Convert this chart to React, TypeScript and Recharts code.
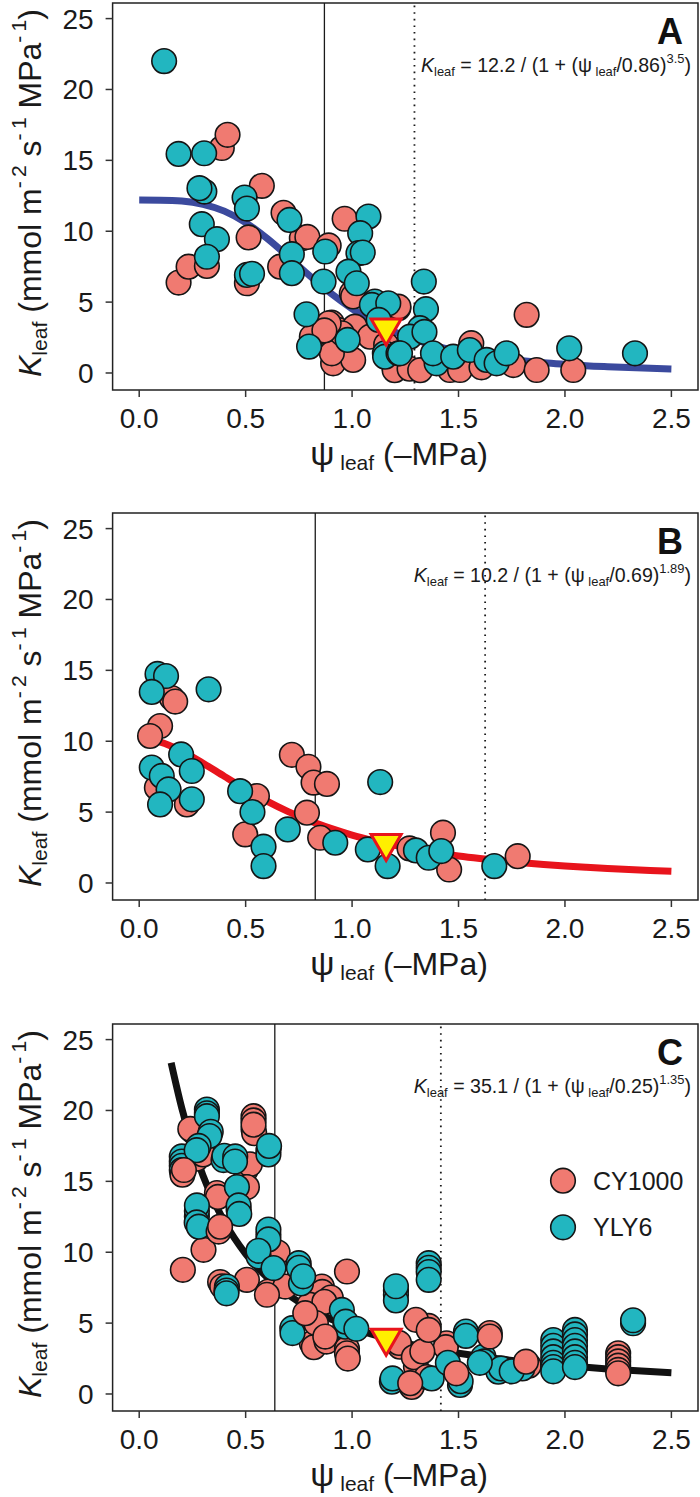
import React from "react"
import {
  ComposedChart,
  XAxis,
  YAxis,
  Scatter,
  Line,
  ReferenceLine,
  ReferenceArea,
} from "recharts"

const FONT = '"Liberation Sans", Arial, Helvetica, sans-serif'
const CY_FILL = "#F07A71"
const YLY_FILL = "#22B6C0"

const xTicks = [0, 0.5, 1, 1.5, 2, 2.5]
const yTicks = [0, 5, 10, 15, 20, 25]
const X_DOMAIN: [number, number] = [-0.125, 2.625]
const Y_DOMAIN: [number, number] = [-1.2, 26.1]

const legendItems = [
  { name: "CY1000", color: CY_FILL },
  { name: "YLY6", color: YLY_FILL },
]

// panel A
const aCY1000 = [
  [0.185, 6.38], [0.232, 7.5], [0.318, 7.55], [0.388, 15.87], [0.415, 16.8], [0.506, 6.33],
  [0.514, 9.56], [0.576, 13.2], [0.662, 7.5], [0.678, 11.3], [0.764, 9.51], [0.79, 9.6],
  [0.89, 9.0], [0.965, 10.88], [0.999, 5.63], [1.005, 5.4], [1.217, 4.57], [1.218, 4.68],
  [0.904, 3.55], [0.935, 3.04], [0.911, 2.56], [1.013, 3.27], [1.084, 2.56], [0.911, 0.68],
  [1.005, 0.92], [0.905, 1.39], [0.952, 2.8], [0.89, 3.5], [0.811, 2.56], [0.87, 3.0],
  [1.2, 0.33], [1.2, 0.2], [1.16, 2.0], [1.27, 0.3], [1.32, 0.2], [1.46, 0.21], [1.507, 0.21],
  [1.56, 2.1], [1.608, 0.4], [1.757, 0.56], [1.867, 0.21], [2.039, 0.21], [1.82, 4.1],
]
const aYLY6 = [
  [0.117, 22.0], [0.185, 15.45], [0.305, 15.5], [0.306, 12.8], [0.283, 13.04], [0.495, 12.38],
  [0.506, 11.6], [0.294, 10.5], [0.365, 9.44], [0.318, 8.2], [0.506, 6.92], [0.53, 7.0],
  [0.706, 10.8], [0.717, 8.38], [0.717, 7.04], [0.874, 8.57], [0.866, 6.45], [1.077, 11.04],
  [1.038, 9.86], [1.03, 8.45], [1.05, 8.5], [0.983, 7.15], [1.022, 6.33], [0.786, 4.14],
  [0.798, 1.86], [0.979, 2.33], [1.107, 5.04], [1.093, 4.8], [1.17, 4.92], [1.125, 3.74],
  [1.337, 6.45], [1.347, 4.5], [1.319, 3.16], [1.272, 2.56], [1.34, 2.9], [1.154, 1.39],
  [1.155, 1.15], [1.218, 1.39], [1.225, 1.39], [1.397, 0.68], [1.38, 1.39], [1.475, 1.15],
  [1.553, 1.62], [1.632, 0.92], [1.679, 0.68], [1.726, 1.39], [2.02, 1.74], [2.329, 1.39],
]
const aCurveX = [0, 0.1, 0.2, 0.3, 0.4, 0.5, 0.6, 0.7, 0.8, 0.9, 1.0, 1.1, 1.2, 1.3, 1.4, 1.5, 1.6, 1.7, 1.8, 1.9, 2.0, 2.1, 2.2, 2.3, 2.4, 2.5]
const aCurveY = [12.2, 12.19, 12.13, 11.9, 11.42, 10.61, 9.5, 8.21, 6.87, 5.62, 4.53, 3.62, 2.9, 2.33, 1.88, 1.52, 1.25, 1.03, 0.86, 0.72, 0.61, 0.51, 0.44, 0.38, 0.33, 0.28]

// panel B
const bCY1000 = [
  [0.153, 13.05], [0.169, 12.8], [0.098, 11.07], [0.051, 10.37], [0.083, 6.72], [0.224, 5.54],
  [0.553, 6.13], [0.498, 3.43], [0.717, 9.04], [0.795, 8.2], [0.819, 7.08], [0.882, 6.99],
  [0.788, 4.96], [0.85, 3.19], [1.27, 2.44], [1.427, 3.55], [1.456, 0.95], [1.778, 1.89],
]
const bYLY6 = [
  [0.086, 14.75], [0.126, 14.6], [0.059, 13.48], [0.326, 13.66], [0.197, 9.07], [0.247, 7.9],
  [0.059, 8.14], [0.106, 7.55], [0.138, 6.6], [0.098, 5.54], [0.247, 5.9], [0.474, 6.48],
  [0.532, 5.0], [0.584, 2.56], [0.584, 1.19], [0.698, 3.78], [0.921, 2.84], [1.132, 7.12],
  [1.074, 2.37], [1.167, 1.19], [1.3, 2.3], [1.36, 1.78], [1.419, 2.25], [1.668, 1.19],
]
const bCurveX = aCurveX
const bCurveY = [10.2, 9.94, 9.3, 8.45, 7.52, 6.61, 5.77, 5.03, 4.39, 3.85, 3.38, 2.99, 2.65, 2.37, 2.12, 1.91, 1.73, 1.57, 1.43, 1.31, 1.2, 1.11, 1.03, 0.95, 0.88, 0.82]

// panel C (CY1000 split into points drawn under and over the YLY6 points)
const cCY1000 = [
  [0.255, 18.5], [0.24, 18.7], [0.205, 16.2], [0.285, 17.0],
  [0.27, 16.6], [0.3, 16.9], [0.537, 18.7],
  [0.54, 18.4], [0.5, 15.8], [0.52, 16.2], [0.5, 14.6], [0.506, 14.6], [0.365, 14.17],
  [0.37, 13.9], [0.302, 10.17], [0.205, 8.76], [0.506, 8.05],
  [0.38, 7.9], [0.39, 7.6], [0.607, 7.23], [0.686, 7.58], [0.6, 7.0], [0.65, 10.0],
  [0.858, 7.58], [0.86, 7.2], [0.976, 8.64], [0.8, 6.3], [0.811, 3.58],
  [0.82, 3.3], [0.88, 3.7], [0.976, 3.2],
  [0.9, 6.8], [0.87, 6.5], [0.83, 5.0], [1.36, 4.8], [1.3, 5.23],
  [1.28, 0.5], [1.3, 1.93], [1.225, 3.34], [1.22, 3.6], [1.444, 3.58],
  [1.44, 3.3], [1.647, 4.3], [1.83, 2.0],
  [2.25, 2.87], [2.25, 2.6], [2.25, 2.3], [2.25, 2.0], [2.25, 1.7], [2.25, 1.46],
  [1.29, 2.6], [1.33, 3.0], [1.35, 1.2],
]
const cCY1000Front = [
  [0.203, 15.47], [0.21, 15.8], [0.537, 19.6], [0.537, 19.3], [0.537, 19.0], [0.373, 11.46],
  [0.38, 11.8], [1.36, 4.52], [1.49, 1.46], [1.273, 0.76], [1.647, 4.05], [1.817, 2.28],
  [0.874, 4.05], [0.976, 2.87], [0.98, 2.5], [0.78, 5.7],
]
const cYLY6 = [
  [0.318, 20.06], [0.318, 19.8], [0.318, 19.6], [0.336, 18.5], [0.33, 18.2], [0.2, 16.76],
  [0.2, 16.4], [0.2, 16.1], [0.2, 15.8], [0.279, 17.5], [0.27, 17.2], [0.396, 16.5],
  [0.4, 16.8], [0.451, 16.76], [0.45, 16.4], [0.607, 17.2], [0.607, 16.9], [0.61, 17.5],
  [0.459, 14.6], [0.467, 13.0], [0.467, 13.3], [0.47, 12.7], [0.271, 12.52], [0.271, 12.9],
  [0.271, 13.3], [0.27, 12.1], [0.28, 11.8], [0.412, 7.58], [0.41, 7.3], [0.41, 7.1],
  [0.607, 11.23], [0.607, 11.6], [0.607, 10.9], [0.561, 9.7], [0.56, 10.1], [0.631, 8.88],
  [0.749, 9.23], [0.75, 8.9], [0.719, 4.64], [0.72, 4.3], [0.952, 5.93], [0.968, 4.75],
  [0.97, 5.1], [1.02, 4.6], [0.76, 7.8], [0.77, 8.3], [1.206, 7.3], [1.206, 7.0],
  [1.206, 6.6], [1.206, 7.6], [1.36, 9.23], [1.36, 8.9], [1.36, 8.6], [1.36, 8.05],
  [1.187, 0.87], [1.19, 1.1], [1.374, 1.1], [1.507, 0.64], [1.51, 0.9], [1.535, 4.4],
  [1.535, 4.1], [1.617, 2.63], [1.62, 2.3], [1.687, 1.57], [1.7, 1.8], [1.8, 1.8],
  [1.945, 3.8], [1.945, 3.4], [1.945, 3.0], [1.945, 2.6], [1.945, 2.2], [1.945, 1.9],
  [1.945, 1.6], [2.047, 4.52], [2.047, 4.2], [2.047, 3.8], [2.047, 3.4], [2.047, 3.0],
  [2.047, 2.6], [2.047, 2.2], [2.047, 1.9], [2.32, 4.99], [2.32, 5.2], [1.45, 2.2],
  [1.6, 2.2], [1.75, 1.6],
]
const cCurveX = [0.15, 0.2, 0.25, 0.3, 0.35, 0.4, 0.5, 0.6, 0.7, 0.8, 0.9, 1.0, 1.1, 1.2, 1.3, 1.4, 1.5, 1.6, 1.7, 1.8, 1.9, 2.0, 2.1, 2.2, 2.3, 2.4, 2.5]
const cCurveY = [23.37, 20.17, 17.55, 15.4, 13.63, 12.16, 9.89, 8.24, 7.0, 6.04, 5.29, 4.68, 4.18, 3.77, 3.42, 3.12, 2.87, 2.65, 2.46, 2.28, 2.13, 2.0, 1.88, 1.77, 1.67, 1.58, 1.5]

// reference lines and P50 markers
const solidLines = [0.87, 0.827, 0.637]
const dottedLines = [1.293, 1.625, 1.417]
const p50X = [1.16, 1.16, 1.16]
const p50Y = [3.17, 2.78, 3.93]

const toPts = (arr: number[][]) => arr.map(([x, y]) => ({ x, y }))
const toCurve = (xs: number[], ys: number[]) => xs.map((x, i) => ({ x, y: ys[i] }))

const Dot = (fill: string) => (p: any) => (
  <circle cx={p.cx} cy={p.cy} r={12.3} fill={fill} stroke="#151515" strokeWidth={1.6} />
)

const Triangle = (p: any) => {
  const { cx, cy } = p
  return (
    <polygon
      points={`${cx - 15},${cy - 9} ${cx + 15},${cy - 9} ${cx},${cy + 17}`}
      fill="#FFEF00"
      stroke="#E8141C"
      strokeWidth={3}
      strokeLinejoin="miter"
    />
  )
}

const subStyle: React.CSSProperties = { fontSize: "0.66em", position: "relative", top: "0.3em" }
const supStyle: React.CSSProperties = { fontSize: "0.66em", position: "relative", top: "-0.7em" }

function LegendBox() {
  return (
    <svg width={150} height={80} style={{ position: "absolute", left: 549, top: 145, overflow: "visible" }}>
      {legendItems.map((it, i) => (
        <g key={it.name}>
          <circle cx={14} cy={14.7 + i * 46.6} r={12.3} fill={it.color} stroke="#151515" strokeWidth={1.6} />
          <text x={44} y={14.7 + i * 46.6} dominantBaseline="central" fontSize={25} fontFamily={FONT} fill="#1a1a1a">
            {it.name}
          </text>
        </g>
      ))}
    </svg>
  )
}

interface PanelProps {
  height: number
  cy: number[][]
  cyFront?: number[][]
  yly: number[][]
  curveX: number[]
  curveY: number[]
  curveColor: string
  idx: number
  letter: string
  coef: string
  scale: string
  exponent: string
  showLegend?: boolean
}

function Panel(props: PanelProps) {
  const { height, cy, cyFront, yly, curveX, curveY, curveColor, idx, letter, coef, scale, exponent, showLegend } = props
  return (
    <div style={{ position: "relative", width: 700, height }}>
      <ComposedChart width={700} height={476} margin={{ top: 3, right: 2, bottom: 46, left: 0 }}>
        <XAxis
          type="number"
          dataKey="x"
          domain={X_DOMAIN}
          ticks={xTicks}
          interval={0}
          allowDataOverflow
          tickFormatter={(v: number) => v.toFixed(1)}
          axisLine={false}
          tickLine={{ stroke: "#333", strokeWidth: 1.5 }}
          tickSize={7}
          tickMargin={11}
          height={40}
          tick={{ fontSize: 28, fill: "#1a1a1a", fontFamily: FONT }}
        />
        <YAxis
          type="number"
          dataKey="y"
          domain={Y_DOMAIN}
          ticks={yTicks}
          interval={0}
          allowDataOverflow
          axisLine={false}
          tickLine={{ stroke: "#333", strokeWidth: 1.5 }}
          tickSize={7}
          tickMargin={12}
          width={112.6}
          tick={{ fontSize: 28, fill: "#1a1a1a", fontFamily: FONT }}
        />
        <ReferenceArea
          x1={X_DOMAIN[0]}
          x2={X_DOMAIN[1]}
          y1={Y_DOMAIN[0]}
          y2={Y_DOMAIN[1]}
          fill="none"
          fillOpacity={0}
          stroke="#222"
          strokeWidth={1.5}
        />
        <ReferenceLine x={solidLines[idx]} stroke="#1a1a1a" strokeWidth={1.3} />
        <ReferenceLine x={dottedLines[idx]} stroke="#1a1a1a" strokeWidth={1.8} strokeDasharray="1.6 5" />
        <Scatter data={toPts(cy)} dataKey="y" shape={Dot(CY_FILL)} isAnimationActive={false} />
        <Scatter data={toPts(yly)} dataKey="y" shape={Dot(YLY_FILL)} isAnimationActive={false} />
        {cyFront && (
          <Scatter data={toPts(cyFront)} dataKey="y" shape={Dot(CY_FILL)} isAnimationActive={false} />
        )}
        <Line
          data={toCurve(curveX, curveY)}
          dataKey="y"
          type="monotone"
          stroke={curveColor}
          strokeWidth={7}
          dot={false}
          activeDot={false}
          isAnimationActive={false}
        />
        <Scatter
          data={[{ x: p50X[idx], y: p50Y[idx] }]}
          dataKey="y"
          shape={Triangle}
          isAnimationActive={false}
        />
      </ComposedChart>

      {showLegend && <LegendBox />}

      <div
        style={{
          position: "absolute",
          right: 17,
          top: 20,
          fontSize: 36,
          lineHeight: "24px",
          fontWeight: "bold",
          fontFamily: FONT,
          color: "#111",
        }}
      >
        {letter}
      </div>
      <div
        style={{
          position: "absolute",
          right: 9,
          top: 56,
          fontSize: 19.6,
          lineHeight: 1,
          whiteSpace: "nowrap",
          fontFamily: FONT,
          color: "#1a1a1a",
        }}
      >
        <i>K</i>
        <span style={subStyle}>leaf</span> = {coef} / (1 + (ψ<span style={subStyle}> leaf</span>/{scale})
        <span style={supStyle}>{exponent}</span>)
      </div>

      <div
        style={{
          position: "absolute",
          left: 30 - 200,
          top: 193 - 20,
          width: 400,
          height: 40,
          lineHeight: "40px",
          textAlign: "center",
          transform: "rotate(-90deg)",
          fontSize: 32,
          whiteSpace: "nowrap",
          fontFamily: FONT,
          color: "#1a1a1a",
        }}
      >
        <i>K</i>
        <span style={subStyle}>leaf</span> (mmol m<span style={supStyle}>-&thinsp;2</span> s
        <span style={supStyle}>-&thinsp;1</span> MPa<span style={supStyle}>-&thinsp;1</span>)
      </div>

      <div
        style={{
          position: "absolute",
          left: 399 - 150,
          top: 433,
          width: 300,
          height: 40,
          lineHeight: "40px",
          textAlign: "center",
          fontSize: 32,
          whiteSpace: "nowrap",
          fontFamily: FONT,
          color: "#1a1a1a",
        }}
      >
        <span style={{ fontSize: 34 }}>ψ</span>
        <span style={{ fontSize: 21, position: "relative", top: 5 }}> leaf</span> (–MPa)
      </div>
    </div>
  )
}

export default function App() {
  return (
    <div style={{ width: 700, height: 1497, background: "#fff", overflow: "hidden" }}>
      <style>{"body{margin:0;background:#fff}"}</style>
      <Panel
        height={510}
        cy={aCY1000}
        yly={aYLY6}
        curveX={aCurveX}
        curveY={aCurveY}
        curveColor="#3B4A9E"
        idx={0}
        letter="A"
        coef="12.2"
        scale="0.86"
        exponent="3.5"
      />
      <Panel
        height={511}
        cy={bCY1000}
        yly={bYLY6}
        curveX={bCurveX}
        curveY={bCurveY}
        curveColor="#E8141C"
        idx={1}
        letter="B"
        coef="10.2"
        scale="0.69"
        exponent="1.89"
      />
      <Panel
        height={476}
        cy={cCY1000}
        cyFront={cCY1000Front}
        yly={cYLY6}
        curveX={cCurveX}
        curveY={cCurveY}
        curveColor="#111111"
        idx={2}
        letter="C"
        coef="35.1"
        scale="0.25"
        exponent="1.35"
        showLegend
      />
    </div>
  )
}
